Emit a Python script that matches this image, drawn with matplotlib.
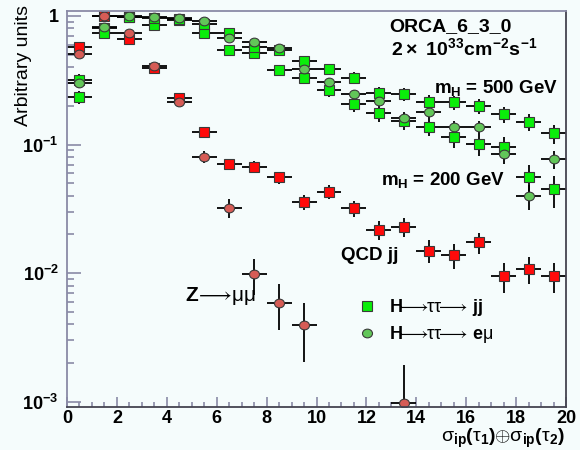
import numpy as np
import matplotlib
matplotlib.use("Agg")
import matplotlib.pyplot as plt
from matplotlib.path import Path
from matplotlib.lines import Line2D
from matplotlib.ticker import FixedLocator, FixedFormatter, MultipleLocator, NullFormatter

plt.rcParams['font.family'] = ['Liberation Sans', 'DejaVu Sans']
plt.rcParams['mathtext.fontset'] = 'custom'
plt.rcParams['mathtext.rm'] = 'Liberation Sans:bold'
plt.rcParams['mathtext.it'] = 'Liberation Sans:bold'
plt.rcParams['mathtext.bf'] = 'Liberation Sans:bold'
plt.rcParams['mathtext.sf'] = 'Liberation Sans'

# bin centres of sigma_ip(tau1) (+) sigma_ip(tau2)
bins = np.arange(0.5, 20.0, 1.0)

# QCD jj background (red squares)
qcd = [0.577, 1.0, 0.659, 0.394, 0.229, 0.126, 0.0707, 0.0673, 0.0557, 0.0356,
       0.0430, 0.0320, 0.0217, 0.0230, 0.0150, 0.01385, 0.0174, 0.00956, 0.01078, 0.00956]
qcd_err = [0.0192, 0.0253, 0.0205, 0.0159, 0.0121, 0.0090, 0.0067, 0.0066, 0.0060, 0.0048,
           0.0053, 0.0045, 0.0037, 0.0038, 0.0031, 0.0030, 0.0033, 0.0025, 0.0026, 0.0025]

# Z -> mu mu (red circles)
nan = np.nan
zmm = [0.504, 1.0, 0.734, 0.411, 0.2157, 0.0801, 0.0323, 0.0098, 0.0059, 0.00393,
       nan, nan, nan, 0.00098, nan, nan, nan, nan, nan, nan]
zmm_err = [0.0212, 0.0298, 0.0256, 0.0191, 0.0139, 0.0084, 0.0054, 0.0030, 0.0023, 0.0019,
           nan, nan, nan, 0.00097, nan, nan, nan, nan, nan, nan]

# H -> tautau -> jj, m_H = 500 GeV (green squares, upper)
jj500 = [0.2345, 0.734, 0.982, 0.965, 0.948, 0.867, 0.734, 0.577, 0.544, 0.443,
         0.387, 0.331, 0.252, 0.248, 0.2157, 0.2133, 0.1996, 0.1723, 0.1498, 0.1224]
jj500_err = [0.0287, 0.0507, 0.0586, 0.0581, 0.0576, 0.0551, 0.0507, 0.0449, 0.0436, 0.0394,
             0.0368, 0.0340, 0.0297, 0.0295, 0.0275, 0.0273, 0.0264, 0.0246, 0.0229, 0.0207]

# H -> tautau -> jj, m_H = 200 GeV (green squares, lower)
jj200 = [0.318, 0.807, 0.991, 0.851, 0.931, 0.734, 0.544, 0.513, 0.380, 0.328,
         0.266, 0.2057, 0.1751, 0.1539, 0.1377, 0.1146, 0.1005, 0.0966, 0.0557, 0.0448]
jj200_err = [0.0334, 0.0531, 0.0589, 0.0546, 0.0571, 0.0507, 0.0436, 0.0424, 0.0365, 0.0339,
             0.0305, 0.0268, 0.0248, 0.0232, 0.0220, 0.0200, 0.0188, 0.0184, 0.0140, 0.0125]

# H -> tautau -> e mu (green circles)
emu = [0.301, 0.817, 1.0, 0.977, 0.960, 0.919, 0.671, 0.631, 0.567, 0.387,
       0.305, 0.246, 0.2195, 0.160, 0.180, 0.1363, 0.1363, 0.0842, 0.0400, 0.0766]
emu_err = [0.0245, 0.0404, 0.0447, 0.0442, 0.0438, 0.0429, 0.0366, 0.0355, 0.0337, 0.0278,
           0.0247, 0.0222, 0.0210, 0.0179, 0.0190, 0.0165, 0.0165, 0.0130, 0.0089, 0.0124]

bg = '#f5fcfc'
red_sq = '#ff0a0a'
red_ci = '#d65c56'
grn_sq = '#0aee0a'
grn_ci = '#62c659'
edge = '#3a3a3a'
axcol = '#8a8aa6'

circ = Path.unit_circle()
ellipse = Path(circ.vertices * [1.15, 1.0], circ.codes)

fig = plt.figure(figsize=(5.8, 4.5), dpi=100, facecolor=bg)
ax = fig.add_axes([67 / 580, 1 - 407 / 450, 499 / 580, 396 / 450], facecolor=bg)

common = dict(xerr=0.5, ecolor='k', elinewidth=1.3, capsize=0, ls='none',
              mec=edge, mew=0.8)
ax.errorbar(bins, qcd, yerr=qcd_err, marker='s', ms=6.6, mfc=red_sq, **common)
ax.errorbar(bins, zmm, yerr=zmm_err, marker=ellipse, ms=7.2, mfc=red_ci, **common)
ax.errorbar(bins, jj200, yerr=jj200_err, marker='s', ms=6.6, mfc=grn_sq, **common)
ax.errorbar(bins, jj500, yerr=jj500_err, marker='s', ms=6.6, mfc=grn_sq, **common)
ax.errorbar(bins, emu, yerr=emu_err, marker=ellipse, ms=7.2, mfc=grn_ci, **common)

ax.set_yscale('log')
ax.set_xlim(0, 20)
ax.set_ylim(10 ** (-391 / 128.6), 10 ** (5 / 128.6))

# axes styling
for s in ['left', 'top']:
    ax.spines[s].set_color(axcol)
for s in ['right', 'bottom']:
    ax.spines[s].set_color('#444450')
for s in ax.spines.values():
    s.set_linewidth(1.3)

ax.xaxis.set_major_locator(MultipleLocator(2))
ax.xaxis.set_minor_locator(MultipleLocator(0.5))
ax.yaxis.set_major_locator(FixedLocator([1e-3, 1e-2, 1e-1, 1]))
ax.yaxis.set_major_formatter(FixedFormatter(['10$^{-3}$', '10$^{-2}$', '10$^{-1}$', '1']))
minors = [m * 10.0 ** e for e in (-3, -2, -1) for m in range(2, 10)]
ax.yaxis.set_minor_locator(FixedLocator(minors))
ax.yaxis.set_minor_formatter(NullFormatter())
ax.tick_params(axis='both', which='both', direction='in', color=axcol, width=1.2,
               labelsize=13, right=False, top=False)
ax.tick_params(axis='x', which='major', length=7, pad=2)
ax.tick_params(axis='x', which='minor', length=3.5)
ax.tick_params(axis='y', which='major', length=10, pad=6)
ax.tick_params(axis='y', which='minor', length=5)
for lab in ax.get_xticklabels() + ax.get_yticklabels():
    lab.set_fontweight('bold')

# annotations
ax.text((390 - 67) / 25, 10 ** (-(27 - 16) / 128.6), 'ORCA_6_3_0',
        fontsize=14, fontweight='bold', va='center', ha='left')
ax.text((392 - 67) / 25, 10 ** (-(48 - 16) / 128.6), r'$2\times\ 10^{33}cm^{-2}s^{-1}$',
        fontsize=14, va='center', ha='left')
ax.text((435 - 67) / 25, 10 ** (-(93.5 - 16) / 128.6), r'$m_{H}$ = 500 GeV',
        fontsize=13.5, fontweight='bold', va='baseline', ha='left')
ax.text((381.7 - 67) / 25, 10 ** (-(185 - 16) / 128.6), r'$m_{H}$ = 200 GeV',
        fontsize=13.5, fontweight='bold', va='baseline', ha='left')
ax.text((341.7 - 67) / 25, 10 ** (-(260 - 16) / 128.6), 'QCD jj',
        fontsize=13.5, fontweight='bold', va='baseline', ha='left')
ax.text((185 - 67) / 25, 10 ** (-(301 - 16) / 128.6),
        r'$\mathbf{Z}\!\mathsf{\longrightarrow}\!\mathsf{\mu\mu}$',
        fontsize=15, va='baseline', ha='left')

handles = [Line2D([], [], ls='none', marker='s', ms=6.6, mfc=grn_sq, mec=edge, mew=0.8),
           Line2D([], [], ls='none', marker=ellipse, ms=7.2, mfc=grn_ci, mec=edge, mew=0.8)]
labels = [r'$\mathbf{H}\!\!\mathsf{\longrightarrow}\!\!\mathsf{\tau\tau}\!\!\mathsf{\longrightarrow}\,\mathbf{jj}$',
          r'$\mathbf{H}\!\!\mathsf{\longrightarrow}\!\!\mathsf{\tau\tau}\!\!\mathsf{\longrightarrow}\,\mathbf{e}\mathsf{\mu}$']
ax.legend(handles, labels, loc='upper left', bbox_to_anchor=(360 / 580, 1 - 297 / 450),
          bbox_transform=fig.transFigure, frameon=False, fontsize=13,
          handlelength=0.8, handletextpad=0.8, borderpad=0, borderaxespad=0,
          labelspacing=0.35)

fig.text(24 / 580, 1 - 5 / 450, 'Arbitrary units', rotation=90, fontsize=14,
         ha='center', va='top')
fig.text(565 / 580, 0.0,
         r'$\mathsf{\sigma}_{ip}(\mathsf{\tau}_{1})\mathsf{\oplus\sigma}_{ip}(\mathsf{\tau}_{2})$',
         fontsize=14, ha='right', va='bottom')

fig.savefig('out.png', dpi=100, facecolor=bg)
